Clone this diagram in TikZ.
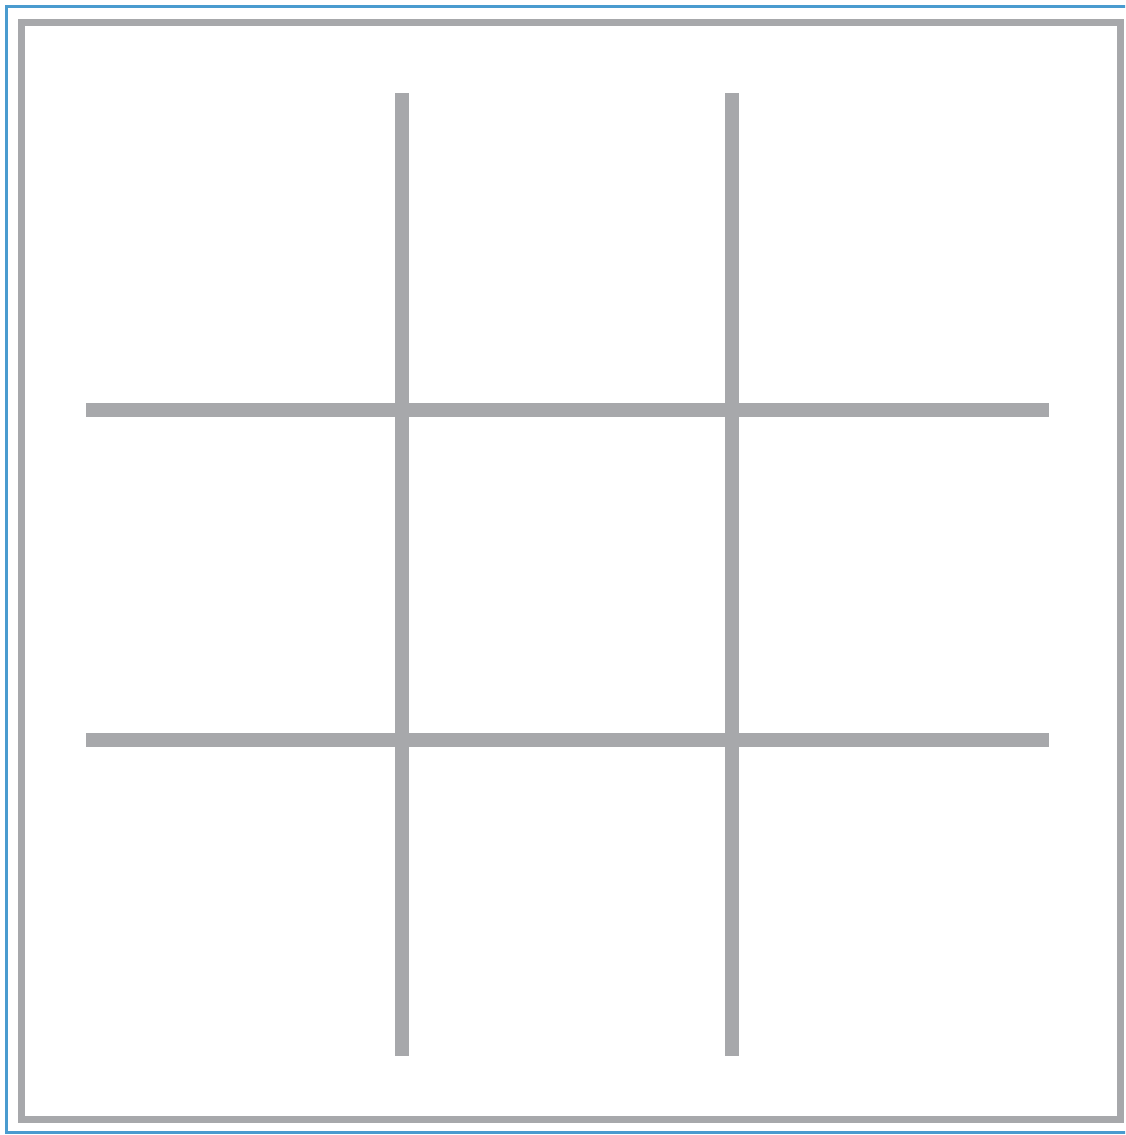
\documentclass[tikz,border=0pt]{standalone}
\usepackage{tikz}
\definecolor{gridgray}{HTML}{A7A8AB}
\definecolor{frameblue}{HTML}{4A9BCF}
\tikzset{
  gridline/.style={draw=gridgray, line width=14pt},
  framegray/.style={draw=gridgray, line width=7pt},
  frameouter/.style={draw=frameblue, line width=3pt}
}
\begin{document}
\begin{tikzpicture}[x=1pt,y=-1pt]
\useasboundingbox (0,0) rectangle (1125,1135);
\fill[white] (0,0) rectangle (1125,1135);
\begin{scope}
\clip (0,0) rectangle (1125,1135);
\draw[frameouter] (6,6) rectangle (1140,1132);
\end{scope}
\draw[framegray] (21,22) rectangle (1120,1119);
\coordinate (v1t) at (402,93);
\coordinate (v1b) at (402,1056);
\coordinate (v2t) at (732,93);
\coordinate (v2b) at (732,1056);
\coordinate (h1l) at (86,410);
\coordinate (h1r) at (1049,410);
\coordinate (h2l) at (86,740);
\coordinate (h2r) at (1049,740);
\draw[gridline] (v1t) -- (v1b);
\draw[gridline] (v2t) -- (v2b);
\draw[gridline] (h1l) -- (h1r);
\draw[gridline] (h2l) -- (h2r);
\end{tikzpicture}
\end{document}
